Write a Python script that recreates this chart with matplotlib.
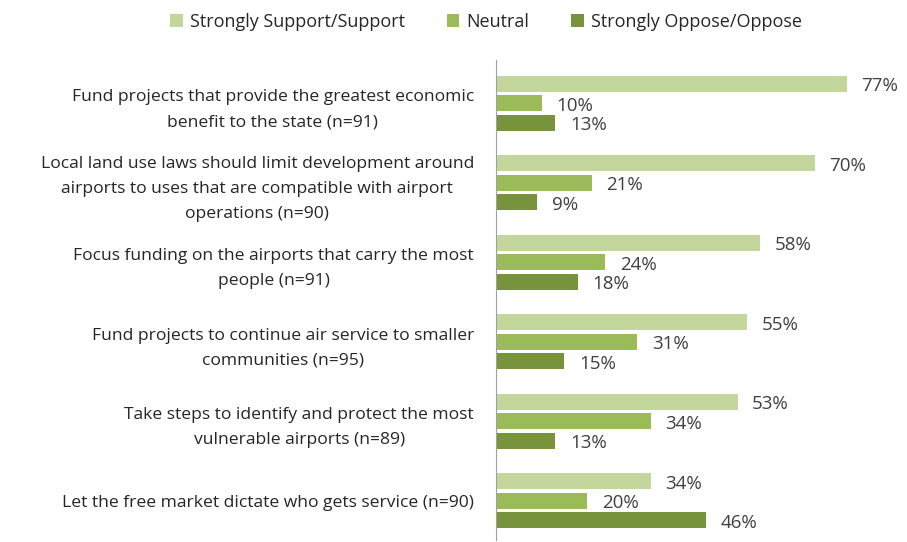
import numpy as np
import matplotlib.pyplot as plt

plt.rcParams['font.family'] = ['Open Sans', 'DejaVu Sans']

# survey statements and responses (%)
questions = [
    "Fund projects that provide the greatest economic\nbenefit to the state (n=91)",
    "Local land use laws should limit development around\nairports to uses that are compatible with airport\noperations (n=90)",
    "Focus funding on the airports that carry the most\npeople (n=91)",
    "Fund projects to continue air service to smaller\ncommunities (n=95)",
    "Take steps to identify and protect the most\nvulnerable airports (n=89)",
    "Let the free market dictate who gets service (n=90)",
]
support = [77, 70, 58, 55, 53, 34]
neutral = [10, 21, 24, 31, 34, 20]
oppose = [13, 9, 18, 15, 13, 46]

series = [
    ("Strongly Support/Support", support, "#c3d69b"),
    ("Neutral", neutral, "#9bbb59"),
    ("Strongly Oppose/Oppose", oppose, "#77933c"),
]

fig = plt.figure(figsize=(9.07, 5.42), dpi=100)
ax = fig.add_axes([0.547, 0.004, 0.445, 0.885])

y = np.arange(len(questions))
step = 0.245
for k, (name, vals, col) in enumerate(series):
    pos = y + (k - 1) * step
    ax.barh(pos, vals, height=0.2, color=col, label=name)
    for p, v in zip(pos, vals):
        ax.text(v + 3.2, p + 0.03, f"{v}%", va='center', ha='left',
                fontsize=13.5, color='#404040')

ax.set_xlim(0, 88.6)
ax.set_ylim(5.49, -0.54)
ax.set_yticks(y)
ax.set_yticklabels(questions, fontsize=12.6, color='#262626',
                   multialignment='center', linespacing=1.75)
ax.tick_params(axis='y', length=0, pad=16)
ax.set_xticks([])
for s in ['top', 'right', 'bottom']:
    ax.spines[s].set_visible(False)
ax.spines['left'].set_color('#a0a0a0')

fig.legend(loc='upper center', bbox_to_anchor=(0.536, 1.006), ncol=3, frameon=False,
           fontsize=13, handlelength=0.7, handleheight=0.7, columnspacing=2.3,
           handletextpad=0.4, labelcolor='#262626')

fig.savefig('out.png', dpi=100)
